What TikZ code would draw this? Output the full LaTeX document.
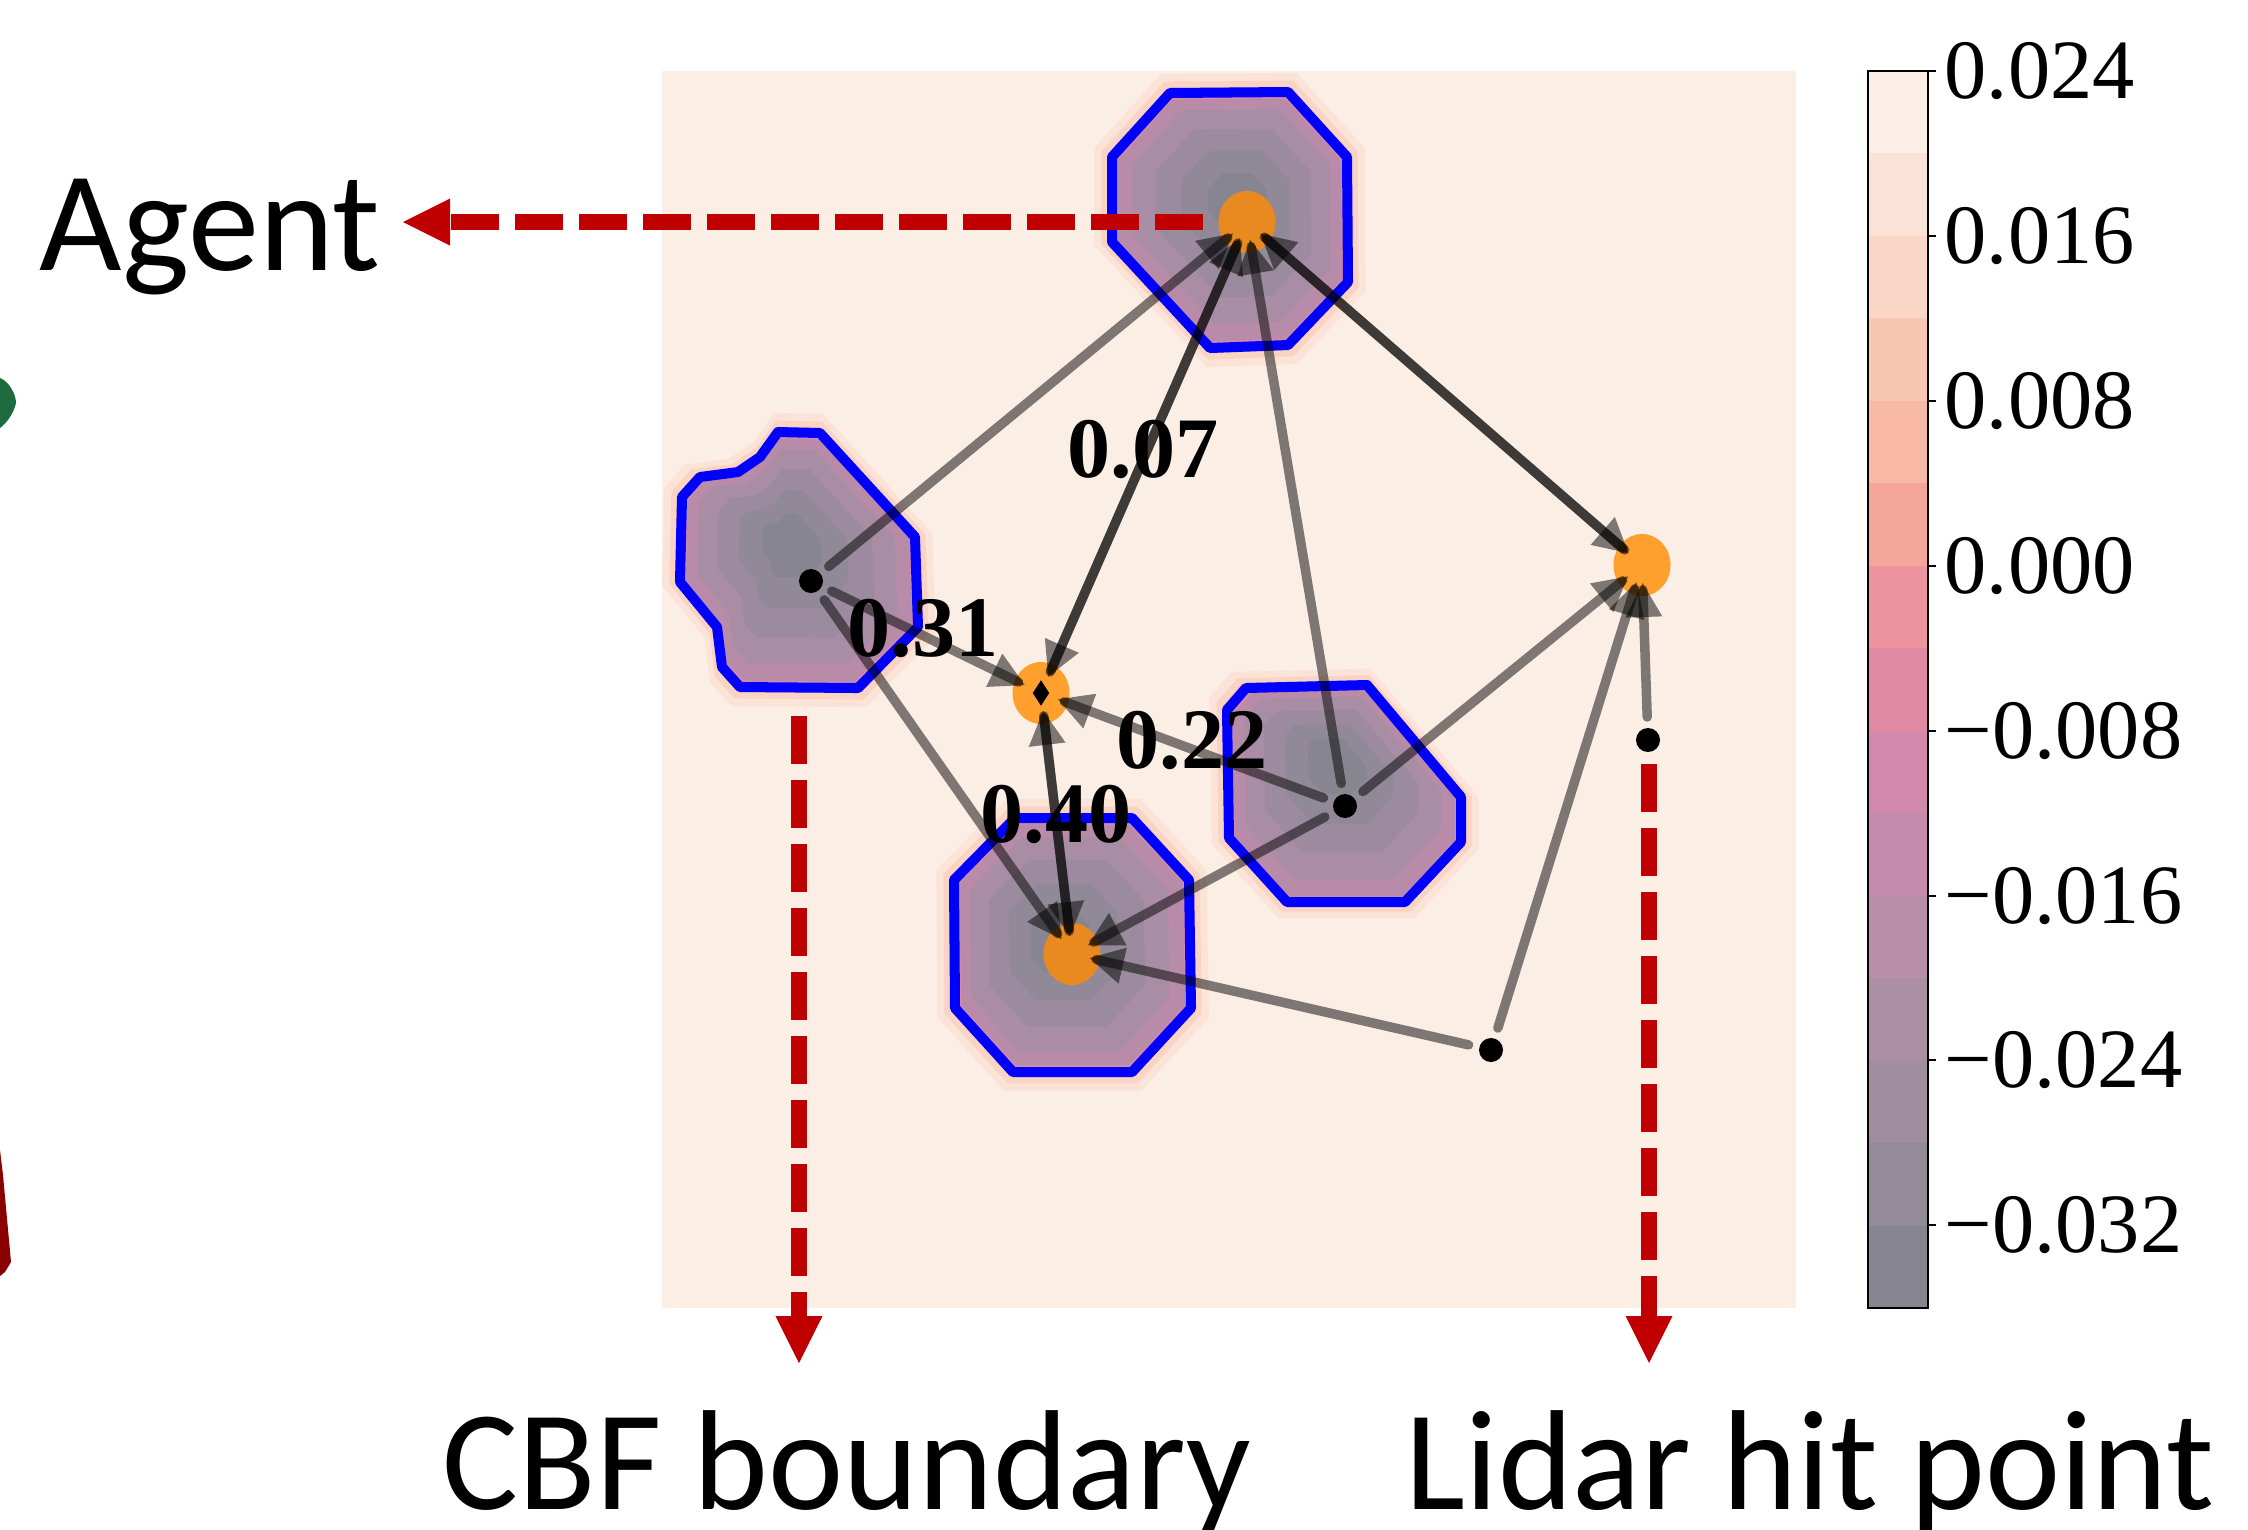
\documentclass[tikz,border=0pt]{standalone}
\usepackage{fontspec}
\setmainfont{Liberation Serif}
\newfontfamily\calfont{Carlito}
\usetikzlibrary{arrows.meta,shapes.geometric}
\definecolor{bgpeach}{HTML}{FBEEE5}
\definecolor{leafgreen}{HTML}{1E6B40}
\definecolor{darkredc}{HTML}{8B0000}
\definecolor{redc}{HTML}{C00000}
\definecolor{orA}{HTML}{FF9F2E}
\definecolor{orB}{HTML}{E88A20}
\definecolor{hA}{HTML}{FBE3D8}
\definecolor{hB}{HTML}{F9D3C3}
\definecolor{hC}{HTML}{F4B2A6}
\definecolor{pk}{HTML}{DC8AAB}
\definecolor{lA}{HTML}{B88CA9}
\definecolor{lB}{HTML}{A98DA4}
\definecolor{lC}{HTML}{9C8B9E}
\definecolor{lD}{HTML}{918998}
\definecolor{lE}{HTML}{878590}
\definecolor{cbA}{HTML}{FBEEE6}
\definecolor{cbB}{HTML}{FBE2D6}
\definecolor{cbC}{HTML}{F9D6C6}
\definecolor{cbD}{HTML}{F8C7B3}
\definecolor{cbE}{HTML}{F7B8A5}
\definecolor{cbF}{HTML}{F5A69C}
\definecolor{cbG}{HTML}{EE949E}
\definecolor{cbH}{HTML}{E08AA4}
\definecolor{cbI}{HTML}{D389AC}
\definecolor{cbJ}{HTML}{C58BAC}
\definecolor{cbK}{HTML}{B88EA8}
\definecolor{cbL}{HTML}{AC8FA3}
\definecolor{cbM}{HTML}{A08E9E}
\definecolor{cbN}{HTML}{938B98}
\definecolor{cbO}{HTML}{878690}
\newcommand\drawblob[3]{%
  \fill[hA, scale around={1.15:#2}] #1;
  \fill[hB, scale around={1.09:#2}] #1;
  \fill[hC, scale around={1.04:#2}] #1;
  \fill[pk] #1;
  \fill[lA, scale around={0.95:#2}] #1;
  \fill[lB, scale around={0.84:#3}] #1;
  \fill[lC, scale around={0.66:#3}] #1;
  \fill[lD, scale around={0.46:#3}] #1;
  \fill[lE, scale around={0.25:#3}] #1;
  \draw[blueline] #1;
}
\newcommand\gedge[2]{%
  \draw[edgeline] (#1.center) -- (#2.center);
  \draw[edgehead] (#1.center) -- (#2.center);
}
\tikzset{
  blueline/.style={draw=blue, line width=2.85pt, line join=round},
  agentA/.style={ellipse, fill=orA, inner sep=0pt, minimum width=0.57cm, minimum height=0.62cm},
  agentB/.style={ellipse, fill=orB, inner sep=0pt, minimum width=0.57cm, minimum height=0.62cm},
  hitdot/.style={circle, fill=black, inner sep=0pt, minimum size=0.24cm},
  diamark/.style={diamond, fill=black, inner sep=0pt, minimum width=0.17cm, minimum height=0.26cm},
  edgeline/.style={draw=black, line width=2.7pt, opacity=0.5, line cap=round,
    shorten <=0.23cm, shorten >=0.25cm},
  edgehead/.style={draw=black, line width=2.7pt, draw opacity=0, fill opacity=0.5,
    shorten >=0.18cm, -{Triangle[length=0.34cm,width=0.37cm,line width=0pt]}},
  elab/.style={font=\bfseries\fontsize{24.5}{28}\selectfont, inner sep=0pt},
  ticklab/.style={font=\fontsize{24}{28}\selectfont, inner sep=0pt, anchor=west},
  bigtxt/.style={font=\calfont\fontsize{40.5}{48}\selectfont, inner sep=0pt, anchor=base},
  redarrow/.style={draw=redc, line width=4.55pt, dash pattern=on 0.48cm off 0.16cm,
    -{Triangle[length=0.47cm,width=0.47cm,line width=0pt]}}
}
\begin{document}
\begin{tikzpicture}[x=0.01cm,y=-0.01cm]
\useasboundingbox (0,0) rectangle (2248,1529);
\fill[white] (0,0) rectangle (2248,1529);
% cut-off shapes at left edge
\fill[leafgreen] (0,378) .. controls (10,382) and (16,395) .. (16,403) .. controls (14,412) and (8,422) .. (0,428) -- cycle;
\fill[darkredc] (0,1150) -- (3,1175) -- (11,1262) -- (5,1272) -- (0,1276) -- cycle;
% panel
\fill[bgpeach] (662,71) rectangle (1796,1308);
% colorbar
\foreach \c [count=\i from 0] in {cbA,cbB,cbC,cbD,cbE,cbF,cbG,cbH,cbI,cbJ,cbK,cbL,cbM,cbN,cbO}
  \fill[\c] (1868,{71+\i*82.47}) rectangle (1928,{71+(\i+1)*82.47});
\draw[line width=0.6pt] (1868,71) rectangle (1928,1308);
\foreach \y in {71,236,401,566,731,896,1060,1225}
  \draw[line width=0.6pt] (1928,\y) -- (1936,\y);
\node[ticklab] (t1) at (1944,71) {0.024};
\node[ticklab] (t2) at (1944,236) {0.016};
\node[ticklab] (t3) at (1944,401) {0.008};
\node[ticklab] (t4) at (1944,566) {0.000};
\node[ticklab] (t5) at (1944,731) {\char"2212 0.008};
\node[ticklab] (t6) at (1944,896) {\char"2212 0.016};
\node[ticklab] (t7) at (1944,1060) {\char"2212 0.024};
\node[ticklab] (t8) at (1944,1225) {\char"2212 0.032};
% CBF contour blobs
\drawblob{(1170,93) -- (1288,92) -- (1347,157) -- (1348,282) -- (1288,345) -- (1210,348) -- (1112,242) -- (1112,157) -- cycle}{(1230,220)}{(1240,200)}
\drawblob{(778,432) -- (820,433) -- (915,537) -- (918,627) -- (858,688) -- (740,687) -- (722,667) -- (717,627) -- (680,582) -- (682,497) -- (700,477) -- (738,472) -- (760,457) -- cycle}{(800,560)}{(789,540)}
\drawblob{(1015,818) -- (1132,818) -- (1189,880) -- (1191,1008) -- (1132,1072) -- (1013,1072) -- (955,1008) -- (954,880) -- cycle}{(1072,945)}{(1056,940)}
\drawblob{(1246,688) -- (1367,685) -- (1461,797) -- (1461,842) -- (1405,902) -- (1287,902) -- (1229,838) -- (1227,710) -- cycle}{(1344,795)}{(1335,757)}
% agents and hit points
\node[agentB] (top) at (1247,222) {};
\node[agentB] (bot) at (1072,954) {};
\node[agentA] (dia) at (1041,693) {};
\node[agentA] (rgt) at (1642,565) {};
\node[diamark] (diam) at (1041,693) {};
\node[hitdot] (ld) at (811,581) {};
\node[hitdot] (rd) at (1345,806) {};
\node[hitdot] (brd) at (1491,1050) {};
\node[hitdot] (lid) at (1648,740) {};
% edges
\gedge{ld}{top}
\gedge{ld}{dia}
\gedge{ld}{bot}
\gedge{top}{dia}
\gedge{dia}{top}
\gedge{top}{rgt}
\gedge{rgt}{top}
\gedge{rd}{top}
\gedge{rd}{dia}
\gedge{rd}{bot}
\gedge{rd}{rgt}
\gedge{brd}{bot}
\gedge{brd}{rgt}
\gedge{lid}{rgt}
\gedge{dia}{bot}
\gedge{bot}{dia}
% edge weights
\node[elab] (w07) at (1143,449) {0.07};
\node[elab] (w31) at (923,628) {0.31};
\node[elab] (w22) at (1192,740) {0.22};
\node[elab] (w40) at (1056,814) {0.40};
% annotations
\node[bigtxt] (agenttxt) at (210,270) {Agent};
\node[bigtxt] (cbftxt) at (847,1509) {CBF boundary};
\node[bigtxt] (lidtxt) at (1810,1509) {Lidar hit point};
\coordinate (agsrc) at (1203,222);
\coordinate (agtip) at (403,222);
\coordinate (cbfsrc) at (799,716);
\coordinate (cbftip) at (799,1363);
\coordinate (lidsrc) at (1649,764);
\coordinate (lidtip) at (1649,1363);
\draw[redarrow] (agsrc) -- (agtip);
\draw[redarrow] (cbfsrc) -- (cbftip);
\draw[redarrow] (lidsrc) -- (lidtip);
\end{tikzpicture}
\end{document}
